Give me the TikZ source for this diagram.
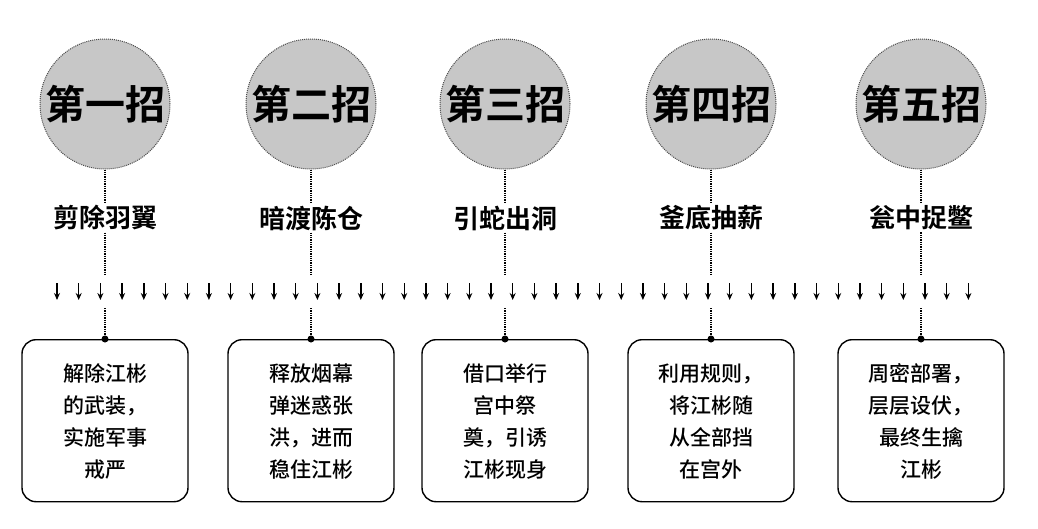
\documentclass[tikz,border=0pt]{standalone}
\usepackage{fontspec}
\usetikzlibrary{arrows.meta}
\newfontfamily\cjk{Noto Sans CJK SC Medium}
\newfontfamily\cjkb{Noto Sans CJK SC Bold}
\begin{document}
\begin{tikzpicture}[x=1pt,y=-1pt,
  circ/.style={circle,draw=black!70,densely dotted,line width=1pt,fill=black!22,minimum size=130pt,inner sep=0pt,font=\cjkb\fontsize{40}{42}\selectfont},
  lab/.style={font=\cjkb\fontsize{26}{28}\selectfont,inner sep=2pt},
  box/.style={draw,line width=1.4pt,rounded corners=14pt,minimum width=166pt,minimum height=162pt,anchor=north,align=center,font=\cjk\fontsize{21}{32}\selectfont,text depth=0pt},
  dl/.style={densely dotted,line width=1.3pt},
  arr/.style={-{Stealth[length=7pt,width=6pt]},line width=1.4pt}]
\useasboundingbox (0,0) rectangle (1038,528);
\foreach \i/\x/\t/\l/\b in {1/105/第一招/剪除羽翼/{解除江彬\\的武装，\\实施军事\\戒严},
  2/311/第二招/暗渡陈仓/{释放烟幕\\弹迷惑张\\洪，进而\\稳住江彬},
  3/505/第三招/引蛇出洞/{借口举行\\宫中祭\\奠，引诱\\江彬现身},
  4/711/第四招/釜底抽薪/{利用规则，\\将江彬随\\从全部挡\\在宫外},
  5/921/第五招/瓮中捉鳖/{周密部署，\\层层设伏，\\最终生擒\\江彬}}{
  \node[circ] (c\i) at (\x,104) {\t};
  \node[lab] (l\i) at (\x,218) {\l};
  \node[box] (b\i) at (\x,339) {\b};
  \coordinate (a\i) at (\x,275);
  \coordinate (d\i) at (\x,308);
  \draw[dl] (c\i.south) -- (l\i.north);
  \draw[dl] (l\i.south) -- (a\i);
  \draw[dl] (d\i) -- (b\i.north);
  \fill (b\i.north) circle (3.5pt);
}
\foreach \k in {0,...,42}{
  \coordinate (p\k) at ({57+21.7*\k},283);
  \coordinate (q\k) at ({57+21.7*\k},300);
  \draw[arr] (p\k) -- (q\k);
}
\end{tikzpicture}
\end{document}
